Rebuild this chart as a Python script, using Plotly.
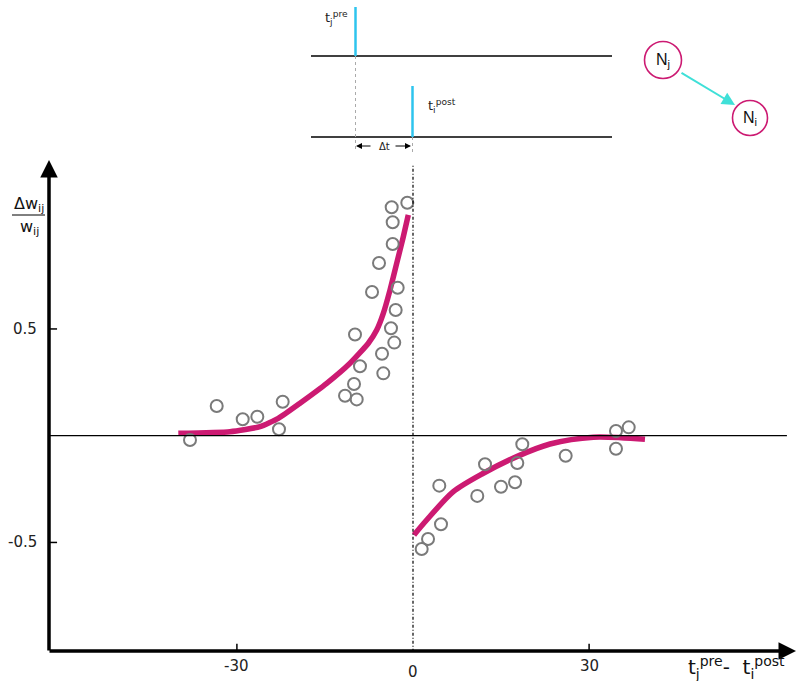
import plotly.graph_objects as go

W, H = 797, 681

# ---------------- data ----------------
ltp_x = [-37.99, -33.44, -29.01, -26.52, -22.83, -22.20, -11.58, -9.59, -10.05, -9.03, -9.88,
         -5.06, -5.28, -3.19, -3.75, -2.95, -2.61, -6.98, -5.79, -3.46, -3.46, -3.63, -0.97]
ltp_y = [-0.020, 0.139, 0.077, 0.089, 0.030, 0.159, 0.187, 0.170, 0.242, 0.325, 0.474,
         0.292, 0.384, 0.436, 0.503, 0.589, 0.693, 0.673, 0.809, 0.898, 1.000, 1.070, 1.091]

ltd_x = [1.48, 2.56, 4.77, 4.48, 10.95, 12.27, 14.99, 17.38, 17.77, 18.62, 26.01, 34.58, 34.58, 36.75]
ltd_y = [-0.531, -0.484, -0.415, -0.234, -0.282, -0.134, -0.239, -0.218, -0.128, -0.040,
         -0.094, 0.022, -0.061, 0.039]

fit_ltp_x = [-39.98, -31.18, -26.06, -22.95, -19.25, -14.70, -10.73, -7.61, -6.18, -5.06,
             -3.92, -2.78, -1.65, -0.80]
fit_ltp_y = [0.011, 0.019, 0.042, 0.081, 0.152, 0.245, 0.339, 0.433, 0.495, 0.573,
             0.682, 0.807, 0.932, 1.034]

fit_ltd_x = [0.17, 2.33, 6.87, 11.98, 17.67, 23.34, 30.72, 39.52]
fit_ltd_y = [-0.465, -0.395, -0.262, -0.176, -0.098, -0.039, -0.007, -0.017]

xtick_vals = [-30, 0, 30]
xtick_text = ["-30", "0", "30"]
ytick_vals = [0.5, -0.5]
ytick_text = ["0.5", "-0.5"]

# axis geometry (data units)
X_MIN, X_MAX = -413 / 5.87, 384 / 5.87
Y_MIN, Y_MAX = (435.7 - 681) / 213.5, 435.7 / 213.5
AX_X = -62.0      # position of vertical axis
AX_Y = -1.012     # position of horizontal axis

MAGENTA = "#CC1A72"
GREY = "#7a7a7a"
CYAN = "#2EC4EE"
TURQ = "#3FE0D8"
FONT = "DejaVu Sans"


def px(x):
    return x / W


def py(y):
    return 1 - y / H


fig = go.Figure()

fig.add_trace(go.Scatter(x=fit_ltp_x, y=fit_ltp_y, mode="lines",
                         line=dict(color=MAGENTA, width=5.5, shape="spline", smoothing=0.5),
                         hoverinfo="skip"))
fig.add_trace(go.Scatter(x=fit_ltd_x, y=fit_ltd_y, mode="lines",
                         line=dict(color=MAGENTA, width=5.5, shape="spline", smoothing=0.8),
                         hoverinfo="skip"))
fig.add_trace(go.Scatter(x=ltp_x + ltd_x, y=ltp_y + ltd_y, mode="markers",
                         marker=dict(symbol="circle-open", size=12, color=GREY,
                                     line=dict(width=2, color=GREY))))

shapes = []
annotations = []

# zero line and dashed x=0 line
shapes.append(dict(type="line", xref="x", yref="y", x0=AX_X, x1=63.7, y0=0, y1=0,
                   line=dict(color="black", width=1.2)))
shapes.append(dict(type="line", xref="x", yref="y", x0=0, x1=0, y0=AX_Y, y1=1.268,
                   line=dict(color="black", width=1.2, dash="3px,2px,1px,2px")))

# ticks
for v in ytick_vals:
    shapes.append(dict(type="line", xref="x", yref="y", x0=AX_X, x1=AX_X + 8 / 5.87,
                       y0=v, y1=v, line=dict(color="black", width=1.5)))
for v, t in zip(ytick_vals, ytick_text):
    annotations.append(dict(x=AX_X, y=v, xref="x", yref="y", text=t, showarrow=False,
                            xanchor="right", yanchor="middle", xshift=-10,
                            font=dict(family=FONT, size=15, color="#222")))
for v, t in zip(xtick_vals, xtick_text):
    if v != 0:
        shapes.append(dict(type="line", xref="x", yref="y", x0=v, x1=v,
                           y0=AX_Y, y1=AX_Y + 8 / 213.5, line=dict(color="black", width=1.5)))
    annotations.append(dict(x=v, y=AX_Y, xref="x", yref="y", text=t, showarrow=False,
                            xanchor="center", yanchor="top",
                            yshift=-3 if v != 0 else -9,
                            font=dict(family=FONT, size=15, color="#222")))

# main axes with arrowheads
annotations.append(dict(x=px(49), y=py(160), xref="paper", yref="paper", ax=0, ay=492,
                        axref="pixel", ayref="pixel", showarrow=True, arrowhead=2,
                        arrowsize=1, arrowwidth=3.5, arrowcolor="black", text=""))
annotations.append(dict(x=px(796), y=py(651), xref="paper", yref="paper", ax=-748, ay=0,
                        axref="pixel", ayref="pixel", showarrow=True, arrowhead=2,
                        arrowsize=1, arrowwidth=3.5, arrowcolor="black", text=""))

# axis titles
annotations.append(dict(x=px(686), y=py(667), xref="paper", yref="paper",
                        text="t<sub>j</sub><sup>pre</sup>-  t<sub>i</sub><sup>post</sup>",
                        showarrow=False, xanchor="left", yanchor="middle",
                        font=dict(family=FONT, size=20, color="#111")))
annotations.append(dict(x=px(29), y=py(204), xref="paper", yref="paper",
                        text="Δw<sub>ij</sub>", showarrow=False, xanchor="center",
                        yanchor="middle", font=dict(family=FONT, size=16, color="#111")))
annotations.append(dict(x=px(29), y=py(228), xref="paper", yref="paper",
                        text="w<sub>ij</sub>", showarrow=False, xanchor="center",
                        yanchor="middle", font=dict(family=FONT, size=16, color="#111")))
shapes.append(dict(type="line", xref="paper", yref="paper", x0=px(12), x1=px(45),
                   y0=py(215), y1=py(215), line=dict(color="black", width=1)))

# ---------------- spike schematic ----------------
for yy in (56, 137):
    shapes.append(dict(type="line", xref="paper", yref="paper", x0=px(311), x1=px(612),
                       y0=py(yy), y1=py(yy), line=dict(color="black", width=1.6)))
shapes.append(dict(type="line", xref="paper", yref="paper", x0=px(355.5), x1=px(355.5),
                   y0=py(56), y1=py(152), line=dict(color="#aaaaaa", width=1, dash="dot")))
shapes.append(dict(type="line", xref="paper", yref="paper", x0=px(412.5), x1=px(412.5),
                   y0=py(137), y1=py(152), line=dict(color="#aaaaaa", width=1, dash="dot")))
shapes.append(dict(type="line", xref="paper", yref="paper", x0=px(355.5), x1=px(355.5),
                   y0=py(7), y1=py(56), line=dict(color=CYAN, width=2.5)))
shapes.append(dict(type="line", xref="paper", yref="paper", x0=px(412.5), x1=px(412.5),
                   y0=py(86), y1=py(137), line=dict(color=CYAN, width=2.5)))
annotations.append(dict(x=px(350), y=py(18), xref="paper", yref="paper",
                        text="t<sub>j</sub><sup>pre</sup>", showarrow=False,
                        xanchor="right", yanchor="middle",
                        font=dict(family=FONT, size=13, color="#222")))
annotations.append(dict(x=px(426), y=py(106), xref="paper", yref="paper",
                        text="t<sub>i</sub><sup>post</sup>", showarrow=False,
                        xanchor="left", yanchor="middle",
                        font=dict(family=FONT, size=13, color="#222")))
annotations.append(dict(x=px(384), y=py(146), xref="paper", yref="paper", text="Δt",
                        showarrow=False, xanchor="center", yanchor="middle",
                        font=dict(family=FONT, size=10, color="#222")))
annotations.append(dict(x=px(356), y=py(146), xref="paper", yref="paper", ax=16, ay=0,
                        axref="pixel", ayref="pixel", showarrow=True, arrowhead=2,
                        arrowsize=1.2, arrowwidth=1, arrowcolor="black", text=""))
annotations.append(dict(x=px(411), y=py(146), xref="paper", yref="paper", ax=-17, ay=0,
                        axref="pixel", ayref="pixel", showarrow=True, arrowhead=2,
                        arrowsize=1.2, arrowwidth=1, arrowcolor="black", text=""))

# ---------------- neuron diagram ----------------
for cx, cy, r, lab in ((663, 60, 18.5, "N<sub>j</sub>"), (750, 118, 17.5, "N<sub>i</sub>")):
    shapes.append(dict(type="circle", xref="paper", yref="paper",
                       x0=px(cx - r), x1=px(cx + r), y0=py(cy + r), y1=py(cy - r),
                       line=dict(color=MAGENTA, width=1.6)))
    annotations.append(dict(x=px(cx), y=py(cy), xref="paper", yref="paper", text=lab,
                            showarrow=False, xanchor="center", yanchor="middle",
                            font=dict(family="Liberation Sans", size=16, color="#111")))
annotations.append(dict(x=px(735), y=py(105), xref="paper", yref="paper", ax=-55, ay=-33,
                        axref="pixel", ayref="pixel", showarrow=True, arrowhead=2,
                        arrowsize=1.3, arrowwidth=2, arrowcolor=TURQ, text=""))

fig.update_layout(
    width=W, height=H,
    margin=dict(l=0, r=0, t=0, b=0),
    paper_bgcolor="white", plot_bgcolor="white",
    showlegend=False,
    xaxis=dict(range=[X_MIN, X_MAX], visible=False, fixedrange=True),
    yaxis=dict(range=[Y_MIN, Y_MAX], visible=False, fixedrange=True),
    shapes=shapes, annotations=annotations,
)

fig.write_html("out.html", config={"displayModeBar": False},
               post_script="document.body.style.margin='0';document.body.style.overflow='hidden';")
